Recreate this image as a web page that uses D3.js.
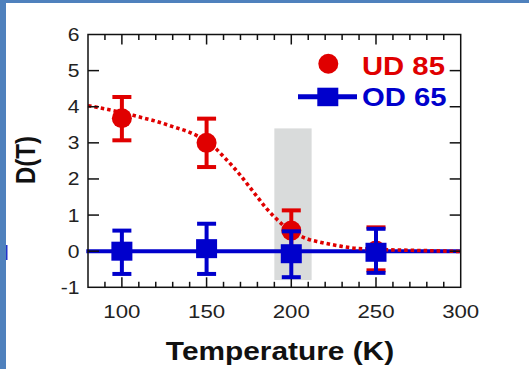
<!DOCTYPE html>
<html><head><meta charset="utf-8">
<script src="https://cdn.jsdelivr.net/npm/d3@7"></script>
<style>html,body{margin:0;padding:0;background:#fff;}svg{display:block;}</style>
</head><body>
<script>
// ---- data ----
const temps = [100, 150, 200, 250];
const ud85 = [3.68, 3.0, 0.57, 0.02];
const ud85Lo = [3.07, 2.33, 0.0, -0.53];
const ud85Hi = [4.27, 3.67, 1.13, 0.66];
const od65 = [0.0, 0.07, -0.07, -0.03];
const od65Lo = [-0.63, -0.63, -0.72, -0.6];
const od65Hi = [0.57, 0.76, 0.55, 0.62];
const fitT = [80, 90, 100, 110, 120, 130, 140, 145, 150, 155, 160, 165, 170, 175, 180, 185, 190, 195, 200, 205, 210, 217, 223, 229, 236, 245, 257, 275, 293, 300];
const fitD = [4.03, 3.94, 3.84, 3.72, 3.6, 3.45, 3.29, 3.18, 3.04, 2.86, 2.62, 2.37, 2.1, 1.8, 1.5, 1.2, 0.95, 0.73, 0.56, 0.43, 0.33, 0.25, 0.19, 0.14, 0.09, 0.06, 0.04, 0.02, 0.0, -0.01];
const odLine = [0, 0];
const bandT = [190, 212];
const bandD = [-0.8, 3.4];
const xTicks = [100, 150, 200, 250, 300];
const xMinor = d3.range(80, 301, 10);
const yTicks = [-1, 0, 1, 2, 3, 4, 5, 6];
const legendNames = ["UD 85", "OD 65"];

const W = 529, H = 369;
const RED = "#e00000", BLUE = "#0000cc", FRAME = "#4f81bd";
const SX = 1.17; // horizontal stretch of the original picture's text

const svg = d3.select("body").append("svg").attr("width", W).attr("height", H);

// slide frame
svg.append("rect").attr("x", 0).attr("y", 0).attr("width", 6).attr("height", H).attr("fill", FRAME);
svg.append("rect").attr("x", 0).attr("y", 0).attr("width", W).attr("height", 3).attr("fill", FRAME);
svg.append("rect").attr("x", 6).attr("y", 245).attr("width", 1.5).attr("height", 15).attr("fill", "#2233cc");

const x = d3.scaleLinear().domain([80, 300]).range([88, 460.7]);
const y = d3.scaleLinear().domain([-1, 6]).range([287.3, 34.5]);

function stretch(sel) {
  sel.each(function () {
    const w = this.getComputedTextLength();
    d3.select(this).attr("textLength", w * SX).attr("lengthAdjust", "spacingAndGlyphs");
  });
}

// grey band
svg.append("rect")
  .attr("x", x(bandT[0])).attr("width", x(bandT[1]) - x(bandT[0]))
  .attr("y", y(bandD[1])).attr("height", y(bandD[0]) - y(bandD[1]))
  .attr("fill", "#d9dbdb");

// blue horizontal line
svg.append("line")
  .attr("x1", x(79)).attr("x2", x(300))
  .attr("y1", y(odLine[0])).attr("y2", y(odLine[1]))
  .attr("stroke", BLUE).attr("stroke-width", 4);

// red dotted fit
const line = d3.line().x((d, i) => x(fitT[i])).y(d => y(d)).curve(d3.curveMonotoneX);
svg.append("path").attr("d", line(fitD))
  .attr("fill", "none").attr("stroke", RED).attr("stroke-width", 3.6)
  .attr("stroke-dasharray", "3.5 3");

// axes frame
const frame = svg.append("g").attr("stroke", "#111").attr("fill", "none");
frame.append("rect").attr("x", x(80)).attr("y", y(6)).attr("width", x(300) - x(80)).attr("height", y(-1) - y(6)).attr("stroke-width", 1.5);

// x ticks (top & bottom, inward)
xMinor.forEach(t => {
  const major = xTicks.includes(t);
  const len = major ? 10 : 5.5;
  if (t === 80 || t === 300) return;
  frame.append("line").attr("x1", x(t)).attr("x2", x(t)).attr("y1", y(-1)).attr("y2", y(-1) - len).attr("stroke-width", 1.5);
  frame.append("line").attr("x1", x(t)).attr("x2", x(t)).attr("y1", y(6)).attr("y2", y(6) + len).attr("stroke-width", 1.5);
});
// y ticks (left & right, inward)
yTicks.forEach(v => {
  if (v === -1 || v === 6) return;
  frame.append("line").attr("x1", x(80)).attr("x2", x(80) + 11).attr("y1", y(v)).attr("y2", y(v)).attr("stroke-width", 1.5);
  frame.append("line").attr("x1", x(300)).attr("x2", x(300) - 11).attr("y1", y(v)).attr("y2", y(v)).attr("stroke-width", 1.5);
});

// tick labels
const font = "'Liberation Sans', Arial, Helvetica, sans-serif";
svg.append("g").selectAll("text").data(xTicks).join("text")
  .attr("x", d => x(d)).attr("y", 318).attr("text-anchor", "middle")
  .attr("font-family", font).attr("font-size", 19).attr("fill", "#222")
  .text(d => d).call(stretch);
svg.append("g").selectAll("text").data(yTicks).join("text")
  .attr("x", 79.5).attr("y", d => y(d) + 6.5).attr("text-anchor", "end")
  .attr("font-family", font).attr("font-size", 18).attr("fill", "#222")
  .text(d => d).call(stretch);

// axis titles
svg.append("text").attr("x", 280).attr("y", 360).attr("text-anchor", "middle")
  .attr("font-family", font).attr("font-size", 25.5).attr("font-weight", "bold").attr("fill", "#111")
  .text("Temperature (K)").call(stretch);
svg.append("text").attr("transform", "translate(35,160) rotate(-90) scale(1,1.17)")
  .attr("text-anchor", "middle")
  .attr("font-family", font).attr("font-size", 24).attr("font-weight", "bold").attr("fill", "#111")
  .text("D(T)");

// error bars + markers
function errBars(vals, lo, hi, color) {
  const g = svg.append("g").attr("stroke", color).attr("stroke-width", 4);
  temps.forEach((t, i) => {
    g.append("line").attr("x1", x(t)).attr("x2", x(t)).attr("y1", y(lo[i])).attr("y2", y(hi[i]));
    g.append("line").attr("x1", x(t) - 9.5).attr("x2", x(t) + 9.5).attr("y1", y(lo[i])).attr("y2", y(lo[i]));
    g.append("line").attr("x1", x(t) - 9.5).attr("x2", x(t) + 9.5).attr("y1", y(hi[i])).attr("y2", y(hi[i]));
  });
}
errBars(ud85, ud85Lo, ud85Hi, RED);
svg.append("g").selectAll("circle").data(ud85).join("circle")
  .attr("cx", (d, i) => x(temps[i])).attr("cy", d => y(d)).attr("r", 10).attr("fill", RED);
errBars(od65, od65Lo, od65Hi, BLUE);
svg.append("g").selectAll("rect").data(od65).join("rect")
  .attr("x", (d, i) => x(temps[i]) - 10.5).attr("y", d => y(d) - 9.5)
  .attr("width", 21).attr("height", 19).attr("fill", BLUE);

// legend
svg.append("circle").attr("cx", 328.3).attr("cy", 63.7).attr("r", 10).attr("fill", RED);
svg.append("line").attr("x1", 298).attr("x2", 357).attr("y1", 96.7).attr("y2", 96.7).attr("stroke", BLUE).attr("stroke-width", 5);
svg.append("rect").attr("x", 317.3).attr("y", 87.7).attr("width", 21).attr("height", 18.5).attr("fill", BLUE);
svg.append("g").selectAll("text").data(legendNames).join("text")
  .attr("x", 362).attr("y", (d, i) => i === 0 ? 75 : 105.7)
  .attr("font-family", font).attr("font-size", 25).attr("font-weight", "bold")
  .attr("fill", (d, i) => i === 0 ? RED : BLUE)
  .text(d => d).call(stretch);
</script>
</body></html>
